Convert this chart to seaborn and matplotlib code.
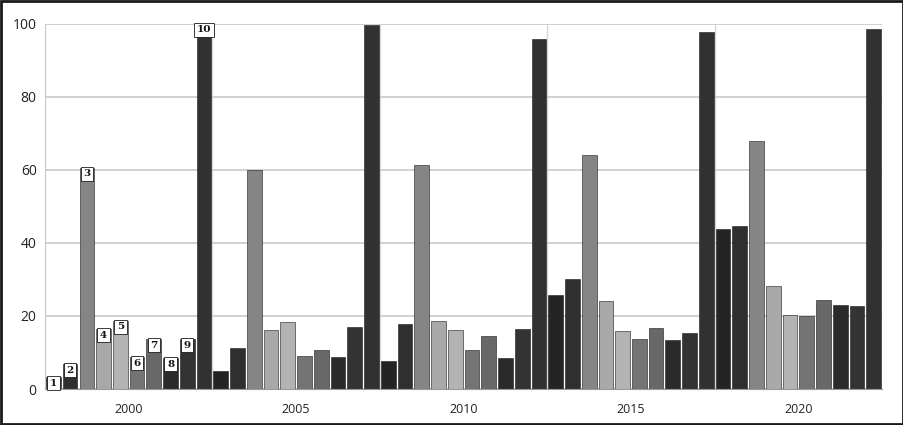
import numpy as np
import pandas as pd
import matplotlib.pyplot as plt
import matplotlib.patches as mpatches
import seaborn as sns

years = ["2000", "2005", "2010", "2015", "2020"]
series = ["1", "2", "3", "4", "5", "6", "7", "8", "9", "10"]

# one list per year, values for series 1..10
v2000 = [3.2, 6.8, 60.6, 16.3, 18.6, 8.7, 13.6, 8.4, 13.6, 100.0]
v2005 = [5.0, 11.2, 60.1, 16.1, 18.4, 9.0, 10.7, 8.9, 16.9, 99.7]
v2010 = [7.8, 17.7, 61.4, 18.7, 16.2, 10.6, 14.6, 8.6, 16.4, 95.9]
v2015 = [25.7, 30.0, 64.1, 24.0, 16.0, 13.6, 16.6, 13.3, 15.3, 97.8]
v2020 = [43.9, 44.7, 67.9, 28.3, 20.2, 19.9, 24.3, 23.0, 22.6, 98.6]

grays = ["#242424", "#2f2f2f", "#858585", "#a9a9a9", "#b3b3b3",
         "#747474", "#686868", "#2a2a2a", "#333333", "#313131"]

rows = []
for yr, vals in zip(years, [v2000, v2005, v2010, v2015, v2020]):
    for s, v in zip(series, vals):
        rows.append({"year": yr, "series": s, "value": v})
df = pd.DataFrame(rows)

sns.set_style("white")
plt.rcParams["font.family"] = ["Open Sans", "DejaVu Sans"]

fig = plt.figure(figsize=(9.04, 4.25), dpi=100)
ax = fig.add_axes([0.0498, 0.0847, 0.926, 0.859])

sns.barplot(data=df, x="year", y="value", hue="series", order=years,
            hue_order=series, palette=grays, width=1.0, gap=0.12,
            edgecolor="#1a1a1a", linewidth=0.4, legend=False, ax=ax)

ax.set_xlim(-0.5, 4.5)
ax.set_ylim(0, 100)
ax.set_yticks([0, 20, 40, 60, 80, 100])
ax.yaxis.grid(True, color="#c8c8c8", lw=1.2)
ax.set_axisbelow(True)
for xb in [0.5, 1.5, 2.5, 3.5]:
    ax.axvline(xb, color="#d8d8d8", lw=1, zorder=0)
ax.set_xlabel("")
ax.set_ylabel("")
ax.tick_params(axis="y", labelsize=10, colors="#222222", length=0, pad=6)
ax.tick_params(axis="x", labelsize=9, colors="#222222", length=0, pad=10)
for side in ["top", "right"]:
    ax.spines[side].set_visible(False)
ax.spines["left"].set_color("#c8c8c8")
ax.spines["bottom"].set_color("#9a9a9a")

# number labels on the first group
for i, cont in enumerate(ax.containers):
    p = cont.patches[0]
    ax.annotate(series[i], (p.get_x() + p.get_width() / 2, p.get_height()),
                xytext=(0, -1), textcoords="offset points", ha="center",
                va="top", fontsize=7.5, fontweight="bold", color="#111111",
                family="DejaVu Serif",
                bbox=dict(boxstyle="square,pad=0.25", fc="white",
                          ec="#1a1a1a", lw=0.6))

fig.patches.append(mpatches.Rectangle((0.001, 0.002), 0.998, 0.996,
                                      transform=fig.transFigure, fill=False,
                                      ec="#1a1a1a", lw=2))

fig.savefig("out.png", dpi=100)
